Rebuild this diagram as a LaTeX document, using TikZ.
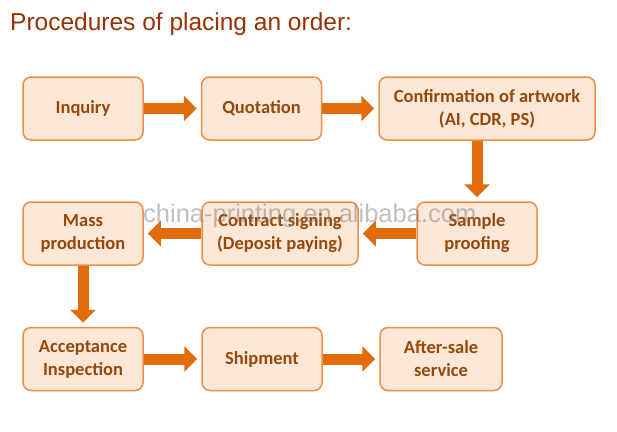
\documentclass[tikz,border=0pt]{standalone}
\usepackage{fontspec}
\setmainfont{Carlito}
\newfontfamily\titlefont{Liberation Sans}
\newfontfamily\wmfont{Liberation Sans}
\usetikzlibrary{arrows.meta}
\definecolor{boxfill}{RGB}{253,232,216}
\definecolor{boxline}{RGB}{240,140,70}
\definecolor{boxtext}{RGB}{150,72,10}
\definecolor{arrowc}{RGB}{227,108,10}
\definecolor{titlec}{RGB}{150,50,5}
\tikzset{
  stepbox/.style={draw=boxline, line width=1.5pt, fill=boxfill, rounded corners=8pt,
    minimum width=120pt, minimum height=63pt, inner sep=2pt, align=center,
    text=boxtext, font=\bfseries\fontsize{18.5}{23}\selectfont},
  flow/.style={draw=arrowc, line width=11pt, shorten >=4pt,
    -{Triangle[width=25pt,length=13pt]}},
}
\begin{document}
\begin{tikzpicture}[x=1pt,y=-1pt]
\useasboundingbox (0,0) rectangle (617,431);
\fill[white] (0,0) rectangle (617,431);
\node[anchor=base west, inner sep=0, text=titlec, font=\titlefont\fontsize{24.5}{28}\selectfont] (title) at (10,30) {Procedures of placing an order:};

\node[stepbox] (inq) at (83,108.5) {Inquiry};
\node[stepbox] (quo) at (261.5,108.5) {Quotation};
\node[stepbox, minimum width=216pt] (conf) at (487,108.5) {Confirmation of artwork\\(AI, CDR, PS)};
\node[stepbox] (samp) at (477,233.5) {Sample\\proofing};
\node[stepbox, minimum width=156pt] (cont) at (280,233.5) {Contract signing\\(Deposit paying)};
\node[stepbox] (mass) at (83,233.5) {Mass\\production};
\node[stepbox] (acc) at (83,359) {Acceptance\\Inspection};
\node[stepbox] (ship) at (262,359) {Shipment};
\node[stepbox, minimum width=122pt] (after) at (441,359) {After-sale\\service};

\draw[flow] (inq) -- (quo);
\draw[flow] (quo) -- (conf);
\draw[flow] (conf.south -| samp.north) -- (samp.north);
\draw[flow] (samp) -- (cont);
\draw[flow] (cont) -- (mass);
\draw[flow] (mass.south) -- (acc.north);
\draw[flow] (acc) -- (ship);
\draw[flow] (ship) -- (after);

\node[anchor=base west, inner sep=0, text=gray, opacity=0.5, font=\wmfont\fontsize{25.5}{28}\selectfont] (wm) at (143,222) {china-printing.en.alibaba.com};
\end{tikzpicture}
\end{document}
